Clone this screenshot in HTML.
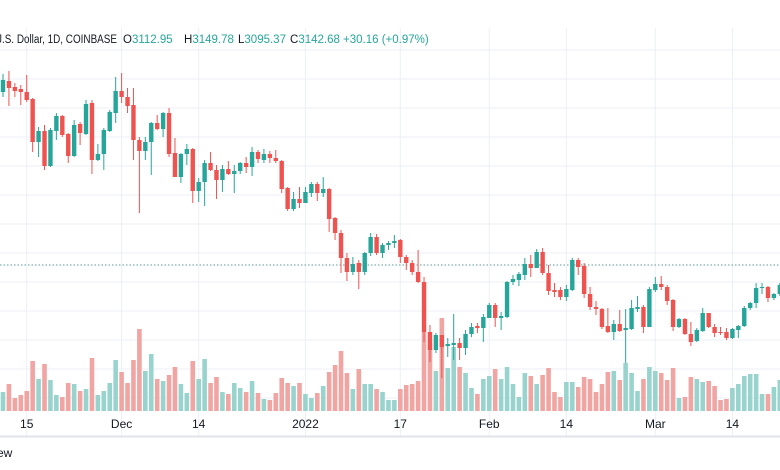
<!DOCTYPE html>
<html><head><meta charset="utf-8"><style>
html,body{margin:0;padding:0;background:#fff;width:780px;height:470px;overflow:hidden}
svg{display:block;font-family:"Liberation Sans",sans-serif}
</style></head><body>
<svg id="chart" width="780" height="470" viewBox="0 0 780 470">
<g id="grid"></g>
<line x1="0" x2="780" y1="265" y2="265" stroke="#5a9e98" stroke-width="1" stroke-dasharray="1.5,2"/>
<g id="vol"></g>
<g id="candles"></g>
<line x1="0" x2="780" y1="436.5" y2="436.5" stroke="#e0e3eb" stroke-width="2"/>
<g id="xlabels" font-size="12" fill="#131722"></g>
<g font-size="11.5" fill="#131722">
<text x="-3" y="43" textLength="120" lengthAdjust="spacingAndGlyphs">J.S. Dollar, 1D, COINBASE</text>
<text x="123" y="43">O<tspan fill="#26a69a">3112.95</tspan></text>
<text x="184" y="43">H<tspan fill="#26a69a">3149.78</tspan></text>
<text x="238" y="43">L<tspan fill="#26a69a">3095.37</tspan></text>
<text x="290" y="43">C<tspan fill="#26a69a">3142.68</tspan></text>
<text x="343" y="43" fill="#26a69a">+30.16 (+0.97%)</text>
</g>
<text x="-3" y="457" font-size="12" fill="#131722">ew</text>
</svg>
<script>
const opens=[4870,4980,4920,4900,4870,4800,4370,4480,4130,4480,4630,4450,4230,4550,4450,4760,4190,4250,4480,4660,4880,4820,4740,4390,4280,4370,4560,4500,4660,4260,4020,4250,4300,3880,3970,4160,4090,3990,4100,4050,4080,4160,4120,4270,4190,4250,4210,4180,3910,3700,3800,3760,3860,3950,3860,3900,3610,3460,3210,3070,3160,3070,3260,3420,3260,3340,3360,3390,3220,3160,3070,2970,2470,2290,2440,2330,2340,2360,2310,2450,2530,2510,2610,2740,2610,2620,2970,2990,3040,3150,3110,3270,3060,2890,2890,2820,2890,3190,3130,2850,2720,2700,2530,2470,2550,2490,2500,2700,2720,2520,2890,2950,2920,2790,2520,2600,2450,2380,2480,2660,2520,2470,2470,2410,2490,2530,2710,2760,2910,2920,2810,2850];
const highs=[5050,5080,4960,4940,5040,4810,4520,4540,4510,4660,4640,4460,4590,4570,4790,4790,4350,4510,4690,5020,5060,4910,4910,4420,4420,4570,4640,4670,4710,4410,4260,4350,4310,4010,4190,4270,4140,4140,4180,4140,4170,4220,4320,4290,4300,4280,4290,4190,3920,3870,3920,3920,3970,3970,4020,3910,3620,3490,3260,3220,3190,3270,3460,3450,3360,3380,3440,3400,3240,3190,3290,3020,2540,2460,2440,2410,2650,2410,2490,2560,2560,2650,2760,2760,2670,2980,3040,3070,3210,3240,3300,3310,3140,2960,2920,2940,3210,3210,3160,2920,2780,2710,2710,2590,2690,2700,2790,2830,2740,2920,3020,3030,2940,2800,2610,2610,2570,2510,2710,2660,2550,2520,2510,2510,2540,2730,2770,2960,2960,2930,2860,2960];
const lows=[4820,4730,4820,4740,4770,4270,4220,4090,4120,4390,4420,4160,4220,4340,4440,4050,4180,4090,4470,4560,4760,4660,4190,3660,4190,4040,4490,4420,4220,4020,3960,4140,3760,3770,3730,4080,3800,3870,4040,3860,4050,4060,4030,4160,4160,4160,4160,3860,3680,3680,3710,3760,3820,3780,3820,3470,3390,3060,2980,3040,2900,3040,3230,3240,3210,3290,3310,3160,3090,3040,2960,2370,2170,2260,2010,2220,2190,2190,2240,2420,2460,2370,2610,2520,2490,2610,2940,2930,2990,3020,3110,3040,2840,2820,2790,2780,2880,3040,2810,2690,2640,2500,2460,2390,2470,2160,2490,2670,2460,2520,2870,2890,2740,2480,2510,2440,2330,2370,2470,2510,2420,2440,2390,2400,2410,2520,2690,2710,2850,2770,2790,2830];
const closes=[4990,4910,4880,4870,4790,4370,4480,4130,4490,4630,4440,4230,4540,4460,4750,4190,4250,4490,4670,4880,4820,4730,4390,4280,4370,4560,4500,4660,4250,4020,4250,4300,3880,3970,4160,4090,3990,4100,4050,4080,4160,4120,4270,4200,4250,4210,4180,3900,3700,3800,3760,3870,3950,3860,3900,3600,3460,3210,3070,3150,3070,3260,3420,3260,3340,3360,3380,3220,3160,3070,2970,2470,2290,2440,2320,2350,2360,2310,2450,2520,2510,2620,2740,2610,2630,2970,3000,3050,3150,3110,3270,3060,2880,2870,2820,2900,3190,3120,2850,2720,2700,2520,2470,2550,2480,2510,2710,2720,2520,2900,2950,2920,2780,2520,2600,2450,2370,2490,2660,2520,2460,2460,2410,2500,2530,2710,2760,2910,2920,2810,2850,2940];
const volumes=[19,27,13,16,20,50,32,47,31,16,14,28,27,20,22,53,16,20,28,51,39,28,51,82,40,57,32,30,36,44,27,18,50,32,52,28,34,19,17,28,23,19,30,18,12,11,18,33,28,25,28,17,13,18,25,39,46,60,38,22,42,27,27,22,19,11,11,22,26,27,30,79,68,40,93,43,64,44,38,23,17,32,35,42,32,44,27,14,38,35,27,36,43,19,14,29,29,24,34,32,19,27,39,40,31,48,38,20,32,44,40,38,31,43,13,14,34,32,29,30,25,11,12,23,27,35,37,37,17,17,24,31];
const xTickLabels=["15","Dec","14","2022","17","Feb","14","Mar","14"];
const xTickIndex=[4,20,33,51,67,82,95,110,123];
const yGridPrices=[5290,5000,4710,4420,4130,3840,3550,3260,2970,2680,2390,2100,1810];

const NS="http://www.w3.org/2000/svg";
const X0=3, DX=5.93;
function xScale(i){return X0+i*DX;}
function yScale(p){return 579-p/10;}
function vScale(v){return 411-v;}
function mk(tag,attrs,parent){const e=document.createElementNS(NS,tag);for(const k in attrs)e.setAttribute(k,attrs[k]);parent.appendChild(e);return e;}

const grid=document.getElementById('grid');
yGridPrices.forEach(p=>{
  const l=mk('line',{x1:0,x2:780,y1:yScale(p),y2:yScale(p),stroke:'#eceff5','stroke-width':1},grid);
  
  
});
const xl=document.getElementById('xlabels');
xTickIndex.forEach((idx,k)=>{
  const x=xScale(idx);
  const l=mk('line',{x1:x,x2:x,y1:28,y2:436,stroke:'#eceff5','stroke-width':1},grid);
  
  
  const t=mk('text',{x:x,y:428,'text-anchor':'middle'},xl);
  t.textContent=xTickLabels[k];
  
  
});
const vg=document.getElementById('vol');
const cg=document.getElementById('candles');
opens.forEach((o,i)=>{
  const c=closes[i], up=c>=o, x=xScale(i);
  const vb=mk('rect',{x:x-2.3,y:vScale(volumes[i]),width:4.6,height:volumes[i],fill:up?'#99d3cd':'#f0a5a3'},vg);
  
  
  const col=up?'#26a69a':'#ef5350';
  const w=mk('line',{x1:x,x2:x,y1:yScale(highs[i]),y2:yScale(lows[i]),stroke:col,'stroke-width':1},cg);
  
  
  const top=yScale(Math.max(o,c)), bot=yScale(Math.min(o,c));
  const b=mk('rect',{x:x-2.2,y:top,width:4.4,height:Math.max(1,bot-top),fill:col},cg);
  
  
});
</script>
</body></html>
